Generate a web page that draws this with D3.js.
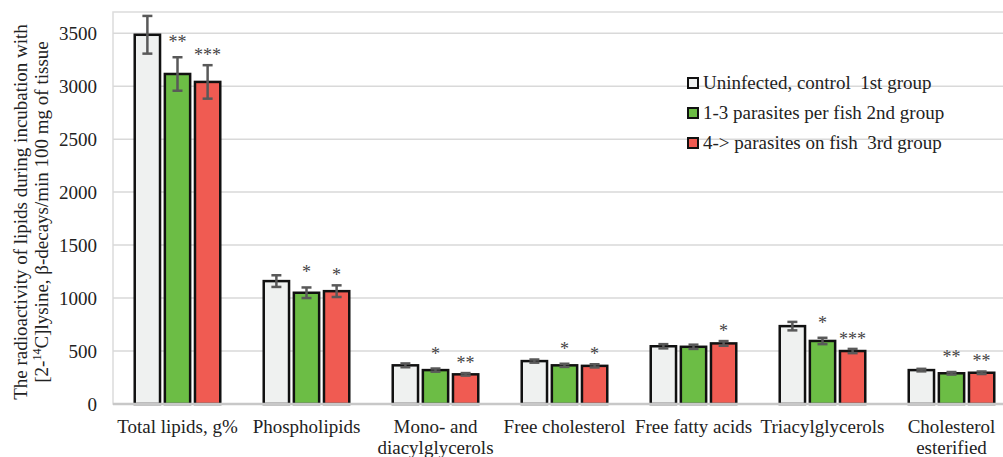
<!DOCTYPE html>
<html>
<head>
<meta charset="utf-8">
<script src="https://cdn.jsdelivr.net/npm/d3@7"></script>
<style>
  body { margin: 0; background: #fff; }
</style>
</head>
<body>
<svg id="chart" width="1003" height="457" style="font-family: 'Liberation Serif', serif;"></svg>
<script>
// chart data
const categories = ["Total lipids, g%", "Phospholipids", "Mono- and\ndiacylglycerols", "Free cholesterol",
  "Free fatty acids", "Triacylglycerols", "Cholesterol\nesterified"];
const seriesNames = ["Uninfected, control\u00a0 1st group", "1-3 parasites per fish 2nd group", "4-> parasites on fish\u00a0 3rd group"];
const control = [3485, 1160, 365, 405, 545, 735, 320];
const group2 = [3115, 1050, 320, 365, 540, 595, 290];
const group3 = [3040, 1065, 280, 360, 572, 500, 295];
const errControl = [178, 55, 18, 15, 20, 40, 12];
const errGroup2 = [158, 50, 15, 15, 20, 30, 12];
const errGroup3 = [158, 55, 12, 15, 22, 20, 12];
const starsGroup2 = ["**", "*", "*", "*", "", "*", "**"];
const starsGroup3 = ["***", "*", "**", "*", "*", "***", "**"];
const yTicks = [0, 500, 1000, 1500, 2000, 2500, 3000, 3500];

const colors = ["#eff1f0", "#6cbd45", "#f05b52"];
const starOffset = [0, 9, 4];
const FONT = "'Liberation Serif', 'Times New Roman', serif";

const svg = d3.select('#chart');
const margin = { left: 113, top: 12, right: 1016, bottom: 404 };

const x0 = d3.scaleBand()
  .domain(categories)
  .range([margin.left, margin.right])
  .paddingInner(0.337)
  .paddingOuter(0.1685);

const x1 = d3.scaleBand()
  .domain(d3.range(3))
  .range([0, x0.bandwidth()])
  .paddingInner(0.16);

const y = d3.scaleLinear()
  .domain([0, 3700])
  .range([margin.bottom, margin.top]);

// plot area border + gridlines
svg.append('rect')
  .attr('x', margin.left).attr('y', margin.top)
  .attr('width', margin.right - margin.left).attr('height', margin.bottom - margin.top)
  .attr('fill', 'none').attr('stroke', '#dcdcdc').attr('stroke-width', 1.5);

svg.append('g')
  .selectAll('line')
  .data(yTicks.slice(1))
  .join('line')
  .attr('x1', margin.left).attr('x2', margin.right)
  .attr('y1', d => y(d)).attr('y2', d => y(d))
  .attr('stroke', '#d9d9d9').attr('stroke-width', 1.5);

// y axis tick labels
const yAxis = svg.append('g')
  .attr('transform', `translate(${margin.left - 16},0)`)
  .call(d3.axisLeft(y).tickValues(yTicks).tickFormat(d3.format('d')).tickSize(0).tickPadding(0));
yAxis.select('.domain').remove();
yAxis.selectAll('text')
  .style('font-family', FONT)
  .style('font-size', '19px')
  .attr('fill', '#222')
  .attr('dy', '0.34em');

// bars
const rows = categories.map((c, i) => ({
  cat: c,
  vals: [control[i], group2[i], group3[i]],
  errs: [errControl[i], errGroup2[i], errGroup3[i]],
  stars: ["", starsGroup2[i], starsGroup3[i]]
}));

const groups = svg.append('g')
  .selectAll('g')
  .data(rows)
  .join('g')
  .attr('transform', d => `translate(${x0(d.cat)},0)`);

const items = groups.selectAll('g')
  .data(d => d.vals.map((v, k) => ({ k, v, e: d.errs[k], s: d.stars[k] })))
  .join('g');

items.append('rect')
  .attr('x', d => x1(d.k))
  .attr('y', d => y(d.v))
  .attr('width', x1.bandwidth())
  .attr('height', d => y(0) - y(d.v))
  .attr('fill', d => colors[d.k])
  .attr('stroke', '#111')
  .attr('stroke-width', 2.5);

// error bars
const errColor = '#595959';
items.append('line')
  .attr('x1', d => x1(d.k) + x1.bandwidth() / 2)
  .attr('x2', d => x1(d.k) + x1.bandwidth() / 2)
  .attr('y1', d => y(d.v + d.e)).attr('y2', d => y(d.v - d.e))
  .attr('stroke', errColor).attr('stroke-width', 2.5);
[1, -1].forEach(sign => {
  items.append('line')
    .attr('x1', d => x1(d.k) + x1.bandwidth() / 2 - 5)
    .attr('x2', d => x1(d.k) + x1.bandwidth() / 2 + 5)
    .attr('y1', d => y(d.v + sign * d.e)).attr('y2', d => y(d.v + sign * d.e))
    .attr('stroke', errColor).attr('stroke-width', 2.5);
});

// significance stars
items.filter(d => d.s)
  .append('text')
  .attr('x', d => x1(d.k) + x1.bandwidth() / 2)
  .attr('y', d => y(d.v + d.e) - starOffset[d.k])
  .attr('text-anchor', 'middle')
  .style('font-family', FONT)
  .style('font-size', '18px')
  .attr('fill', '#444')
  .text(d => d.s);

// zero axis line
svg.append('line')
  .attr('x1', margin.left).attr('x2', margin.right)
  .attr('y1', y(0)).attr('y2', y(0))
  .attr('stroke', '#c8c8c8').attr('stroke-width', 2.5);

// category labels
svg.append('g')
  .selectAll('text')
  .data(categories)
  .join('text')
  .attr('x', d => x0(d) + x0.bandwidth() / 2)
  .attr('y', 433)
  .attr('text-anchor', 'middle')
  .attr('fill', '#222')
  .style('font-family', FONT)
  .style('font-size', '19px')
  .selectAll('tspan')
  .data(d => d.split('\n').map((t, i) => ({ t, i, cx: x0(d) + x0.bandwidth() / 2 })))
  .join('tspan')
  .attr('x', d => d.cx)
  .attr('dy', d => d.i === 0 ? 0 : 21)
  .text(d => d.t);

// y axis title (two lines, rotated)
const title = svg.append('text')
  .attr('transform', 'translate(27,212) rotate(-90)')
  .attr('text-anchor', 'middle')
  .attr('fill', '#222')
  .style('font-family', FONT)
  .style('font-size', '19px');
title.append('tspan').attr('x', 0).attr('dy', 0)
  .text('The radioactivity of lipids during incubation with');
const line2 = title.append('tspan').attr('x', 0).attr('dy', 21);
line2.append('tspan').text('[2-');
line2.append('tspan').style('font-size', '12px').attr('dy', -7).text('14');
line2.append('tspan').attr('dy', 7).text('C]lysine, β-decays/min 100 mg of tissue');

// legend
const legend = svg.append('g')
  .selectAll('g')
  .data(seriesNames)
  .join('g')
  .attr('transform', (d, i) => `translate(688,${83 + i * 30})`);
legend.append('rect')
  .attr('x', 0).attr('y', -5).attr('width', 10).attr('height', 10)
  .attr('fill', (d, i) => colors[i])
  .attr('stroke', '#111').attr('stroke-width', 2);
legend.append('text')
  .attr('x', 15).attr('y', 6)
  .attr('fill', '#222')
  .style('font-family', FONT)
  .style('font-size', '19px')
  .text(d => d);
</script>
</body>
</html>
